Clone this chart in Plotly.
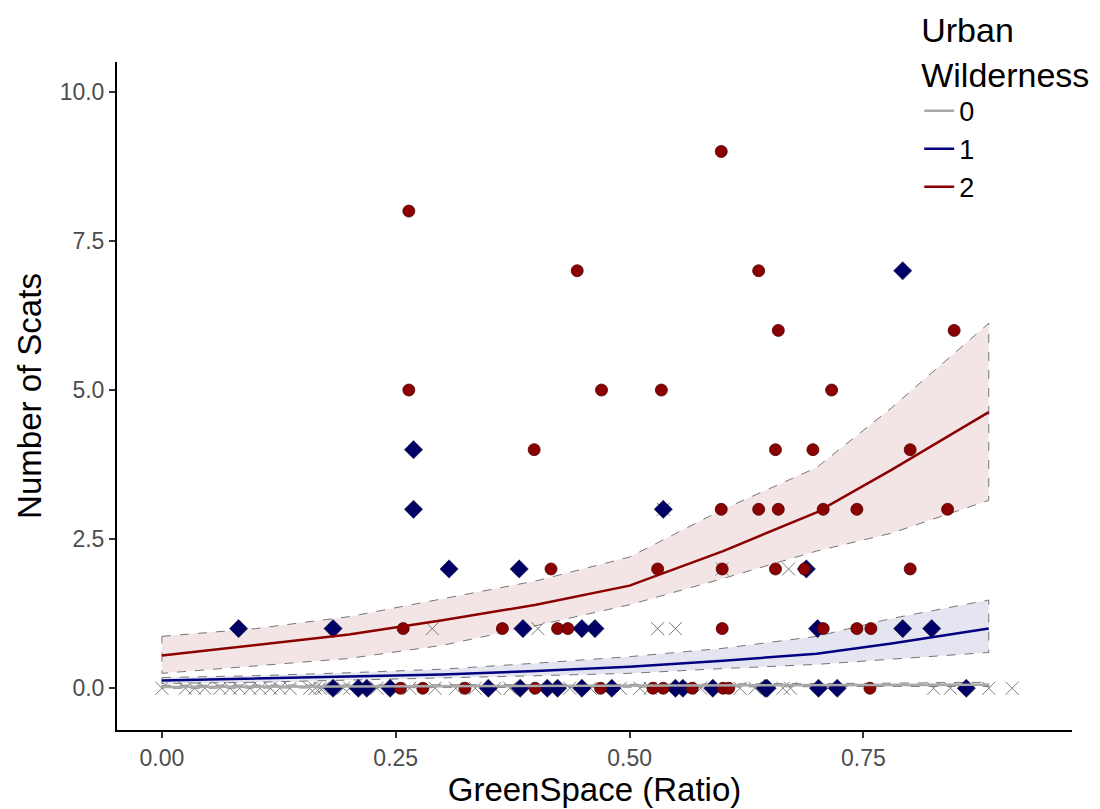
import plotly.graph_objects as go

# ---------------- data ----------------
# Urban Wilderness = 0 (grey crosses)
uw0_x = [0.000, 0.025, 0.035, 0.046, 0.062, 0.073, 0.083, 0.094, 0.105, 0.116, 0.126, 0.137,
         0.158, 0.164, 0.169, 0.172, 0.194, 0.201, 0.230, 0.265, 0.292, 0.314, 0.335, 0.356,
         0.372, 0.404, 0.436, 0.458, 0.490, 0.511, 0.522, 0.576, 0.618, 0.634, 0.664, 0.672,
         0.825, 0.843, 0.884, 0.909,
         0.289, 0.402, 0.530, 0.549, 0.670, 0.536, 0.599]
uw0_y = [0] * 40 + [1, 1, 1, 1, 2, 3, 2]

# Urban Wilderness = 1 (navy diamonds)
uw1_x = [0.183, 0.210, 0.219, 0.244, 0.349, 0.383, 0.412, 0.423, 0.449, 0.481, 0.549, 0.557,
         0.589, 0.645, 0.647, 0.702, 0.722, 0.860,
         0.082, 0.183, 0.386, 0.449, 0.463, 0.701, 0.792, 0.823,
         0.307, 0.382, 0.689,
         0.269, 0.536,
         0.269,
         0.792]
uw1_y = [0] * 18 + [1] * 8 + [2] * 3 + [3] * 2 + [4] + [7]

# Urban Wilderness = 2 (dark red circles)
uw2_x = [0.255, 0.279, 0.324, 0.399, 0.469, 0.525, 0.536, 0.567, 0.600, 0.606, 0.757,
         0.258, 0.364, 0.423, 0.434, 0.599, 0.707, 0.743, 0.758,
         0.416, 0.530, 0.599, 0.656, 0.687, 0.800,
         0.598, 0.638, 0.659, 0.707, 0.743, 0.840,
         0.398, 0.656, 0.696, 0.800,
         0.264, 0.470, 0.534, 0.716,
         0.659, 0.847,
         0.444, 0.638,
         0.264,
         0.598]
uw2_y = [0] * 11 + [1] * 8 + [2] * 6 + [3] * 6 + [4] * 4 + [5] * 4 + [6] * 2 + [7] * 2 + [8] + [9]

# fitted curves and confidence bands
fit_x = [0.0, 0.1, 0.2, 0.3, 0.4, 0.5, 0.6, 0.7, 0.78, 0.884]
fit0 = [0.02, 0.025, 0.03, 0.033, 0.037, 0.04, 0.045, 0.05, 0.055, 0.06]
fit0_lo = [0.0, 0.005, 0.01, 0.015, 0.02, 0.022, 0.025, 0.028, 0.03, 0.03]
fit0_hi = [0.05, 0.05, 0.055, 0.058, 0.06, 0.065, 0.07, 0.075, 0.085, 0.1]
fit1 = [0.13, 0.16, 0.19, 0.23, 0.29, 0.36, 0.46, 0.58, 0.75, 1.00]
fit1_lo = [0.08, 0.10, 0.13, 0.17, 0.21, 0.25, 0.33, 0.40, 0.49, 0.60]
fit1_hi = [0.18, 0.21, 0.26, 0.32, 0.42, 0.53, 0.67, 0.87, 1.17, 1.48]
fit2 = [0.55, 0.72, 0.90, 1.14, 1.40, 1.72, 2.30, 2.95, 3.66, 4.63]
fit2_lo = [0.25, 0.38, 0.50, 0.72, 1.05, 1.40, 1.84, 2.30, 2.60, 3.15]
fit2_hi = [0.87, 1.00, 1.20, 1.50, 1.80, 2.20, 3.00, 3.70, 4.70, 6.12]

groups = ["0", "1", "2"]
line_colors = ["#A9A9A9", "#000080", "#8B0000"]
band_fills = ["rgba(169,169,169,0.15)", "rgba(0,0,128,0.10)", "rgba(139,0,0,0.10)"]

fig = go.Figure()

fits = [(fit0, fit0_lo, fit0_hi), (fit1, fit1_lo, fit1_hi), (fit2, fit2_lo, fit2_hi)]
for g, (f, lo, hi), lc, bf in zip(groups, fits, line_colors, band_fills):
    fig.add_trace(go.Scatter(
        x=fit_x + fit_x[::-1] + [fit_x[0]],
        y=hi + lo[::-1] + [hi[0]],
        fill="toself", fillcolor=bf, mode="lines",
        line=dict(color="#555555", width=0.8, dash="dash"),
        hoverinfo="skip", showlegend=False))

# points
fig.add_trace(go.Scatter(x=uw0_x, y=uw0_y, mode="markers", showlegend=False,
                         marker=dict(symbol="x-thin-open", size=13, color="#7a7a7a",
                                     line=dict(color="#7a7a7a", width=1))))
fig.add_trace(go.Scatter(x=uw1_x, y=uw1_y, mode="markers", showlegend=False,
                         marker=dict(symbol="diamond", size=14, color="#000066",
                                     line=dict(color="#1a1a40", width=0.6))))
fig.add_trace(go.Scatter(x=uw2_x, y=uw2_y, mode="markers", showlegend=False,
                         marker=dict(symbol="circle", size=12, color="#8B0000",
                                     line=dict(color="#4a0000", width=0.8))))

for g, (f, lo, hi), lc in zip(groups, fits, line_colors):
    fig.add_trace(go.Scatter(x=fit_x, y=f, mode="lines", name=g,
                             line=dict(color=lc, width=2.5)))

font_family = "Liberation Sans, Arial, sans-serif"
fig.update_layout(
    width=1100, height=809,
    plot_bgcolor="white", paper_bgcolor="white",
    margin=dict(l=109, r=36, t=54, b=87, autoexpand=False),
    font=dict(family=font_family, color="black"),
    xaxis=dict(range=[-0.048, 0.973], tickvals=[0, 0.25, 0.5, 0.75],
               ticktext=["0.00", "0.25", "0.50", "0.75"],
               showgrid=False, zeroline=False, showline=True, linecolor="black", linewidth=2,
               ticks="outside", ticklen=6, tickwidth=1.5, tickcolor="#333333",
               tickfont=dict(size=23, color="#4D4D4D"),
               title=dict(text="GreenSpace (Ratio)", font=dict(size=33, color="black"), standoff=6)),
    yaxis=dict(range=[-0.70, 10.5], tickvals=[0, 2.5, 5, 7.5, 10],
               ticktext=["0.0", "2.5", "5.0", "7.5", "10.0"],
               showgrid=False, zeroline=False, showline=True, linecolor="black", linewidth=2,
               ticks="outside", ticklen=6, tickwidth=1.5, tickcolor="#333333",
               tickfont=dict(size=23, color="#4D4D4D"),
               title=dict(text="Number of Scats", font=dict(size=33, color="black"), standoff=8)),
    legend=dict(x=0.840, y=1.0955, xanchor="left", yanchor="top",
                bgcolor="rgba(0,0,0,0)", tracegroupgap=0, itemwidth=30,
                font=dict(size=27, color="black"),
                title=dict(text="Urban<br>Wilderness", font=dict(size=34, color="black"))),
)

fig.write_html("out.html")
